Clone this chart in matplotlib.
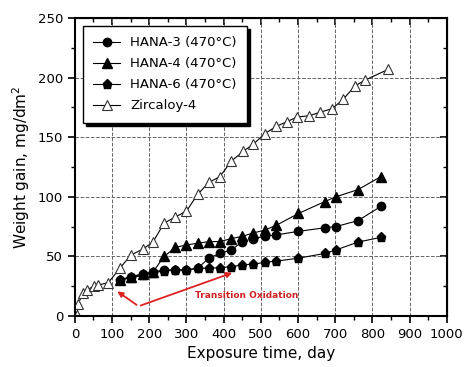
import matplotlib.pyplot as plt
import numpy as np

# data
zr_days = [6, 9, 21, 33, 51, 63, 90, 121, 150, 182, 210, 240, 270, 300, 330, 360,
           390, 421, 452, 479, 511, 541, 570, 598, 630, 660, 692, 722, 753, 781, 843]
zr_gain = [1, 10, 19, 22, 25, 26, 28, 40, 51, 56, 62, 78, 83, 88, 102, 112,
           117, 130, 138, 144, 153, 159, 163, 167, 168, 171, 174, 182, 193, 198, 207]

hana_days = [121, 150, 182, 210, 240, 270, 300, 330, 360, 390, 421, 450, 479, 510,
             541, 601, 672, 702, 761, 823]
hana3 = [30, 33, 35, 37, 38.5, 38.6, 38.6, 40, 48.5, 52.5, 55.4, 62.4, 65, 66.8,
         68, 71, 74, 75, 80, 92]
hana4 = [30, 33, 35, 37, 50, 57.5, 59.6, 61, 62.4, 62.4, 65, 66.8, 69.6, 72,
         76, 86, 96, 100, 106, 117]
hana6 = [30, 32, 34, 36, 38, 38.6, 38.6, 40, 40, 40.5, 41.4, 42.8, 43.4, 45,
         46, 48.5, 52.5, 55.4, 62, 66]

fig = plt.figure(figsize=(4.65, 3.67), dpi=100)
ax = fig.add_axes([0.161, 0.139, 0.8, 0.812])

ax.plot(hana_days, hana3, '-o', color='black', ms=6, lw=0.8, label='HANA-3 (470\u00b0C)')
ax.plot(hana_days, hana4, '-^', color='black', ms=6.5, lw=0.8, label='HANA-4 (470\u00b0C)')
ax.plot(hana_days, hana6, '-p', color='black', ms=6.5, lw=0.8, label='HANA-6 (470\u00b0C)')
ax.plot(zr_days, zr_gain, '-^', color='black', mfc='white', mec='#333333', ms=7.5,
        lw=0.8, mew=0.8, label='Zircaloy-4')

ax.set_xlim(0, 1000)
ax.set_ylim(0, 250)
ax.set_xticks(np.arange(0, 1001, 100))
ax.set_yticks(np.arange(0, 251, 50))
ax.set_xticks(np.arange(0, 1001, 50), minor=True)
ax.set_yticks(np.arange(0, 251, 25), minor=True)
ax.tick_params(which='both', direction='out', labelsize=9.5)
ax.tick_params(which='major', length=5, width=1.2)
ax.tick_params(which='minor', length=3, width=1)
ax.grid(True, which='major', ls='--', color='#666666', lw=0.7)
for s in ax.spines.values():
    s.set_linewidth(1.5)

# top/right ticks point inward like the original
sx = ax.secondary_xaxis('top')
sx.set_xticks(np.arange(0, 1001, 100))
sx.set_xticks(np.arange(0, 1001, 50), minor=True)
sx.tick_params(which='major', direction='in', length=5, width=1.2, labeltop=False)
sx.tick_params(which='minor', direction='in', length=3, width=1)
sy = ax.secondary_yaxis('right')
sy.set_yticks(np.arange(0, 251, 50))
sy.set_yticks(np.arange(0, 251, 25), minor=True)
sy.tick_params(which='major', direction='in', length=5, width=1.2, labelright=False)
sy.tick_params(which='minor', direction='in', length=3, width=1)

ax.set_xlabel('Exposure time, day', fontsize=11)
ax.set_ylabel('Weight gain, mg/dm$^2$', fontsize=11)

leg = ax.legend(loc='upper left', fontsize=9.5, frameon=True, fancybox=False,
                edgecolor='black', handlelength=2.0, borderaxespad=0.6,
                borderpad=0.8, labelspacing=0.6,
                shadow={'color': 'black', 'alpha': 1})
leg.get_frame().set_linewidth(1)

# red arrows and label
ax.annotate('', xy=(108, 22), xytext=(172, 8),
            arrowprops=dict(arrowstyle='-|>', color='#dd2222', lw=1.3, mutation_scale=8))
ax.annotate('', xy=(430, 37), xytext=(170, 8),
            arrowprops=dict(arrowstyle='-|>', color='#dd2222', lw=1.3, mutation_scale=8))
ax.text(463, 17, 'Transition Oxidation', color='#cc2222', fontsize=6.5,
        fontweight='bold', ha='center', va='center')

plt.savefig('out.png', dpi=100)
